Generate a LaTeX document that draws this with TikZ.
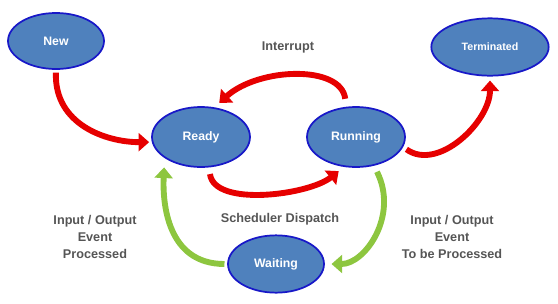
\documentclass[tikz,border=0pt]{standalone}
\usepackage{fontspec}
\setmainfont{Liberation Sans}
\usetikzlibrary{shapes.geometric,arrows.meta}

\definecolor{statefill}{HTML}{4F81BD}
\definecolor{stateline}{HTML}{1818C8}
\definecolor{redarrow}{HTML}{E60000}
\definecolor{greenarrow}{HTML}{8DC63F}
\definecolor{labelgray}{HTML}{555555}

\tikzset{
  state/.style={ellipse,fill=statefill,draw=stateline,line width=1.3pt,inner sep=0pt,
    text=white,font=\bfseries\fontsize{9.2}{11}\selectfont},
  fat/.style={line width=4.4pt,-{Triangle[length=8pt,width=13.5pt]}},
  label/.style={text=labelgray,align=center,font=\bfseries\fontsize{9.5}{12.7}\selectfont}
}

\begin{document}
\begin{tikzpicture}[x=0.75pt,y=-0.75pt]
\useasboundingbox (0,0) rectangle (558,304);

\node[state,minimum width=72pt,minimum height=42pt] (new) at (56,41) {New};
\node[state,minimum width=73.5pt,minimum height=45pt] (ready) at (201,137) {Ready};
\node[state,minimum width=73.5pt,minimum height=45pt] (running) at (356,137) {Running};
\node[state,minimum width=88pt,minimum height=43pt,font=\bfseries\fontsize{8}{10}\selectfont] (terminated) at (490,47) {Terminated};
\node[state,minimum width=72pt,minimum height=43pt] (waiting) at (276,264) {Waiting};

\draw[fat,redarrow,shorten <=2pt,shorten >=2pt] (new.south) .. controls +(-2,55) and +(-45,0) .. (ready.186);
\draw[fat,redarrow,shorten <=6pt,shorten >=5pt] (running.108) .. controls +(-5,-42) and +(45,-40) .. (ready.66);
\draw[fat,redarrow,shorten <=3pt,shorten >=3pt] (running.-12) .. controls +(35,25) and +(0,45) .. (terminated.south);
\draw[fat,redarrow,shorten <=5pt,shorten >=5pt] (ready.-75) .. controls +(5,40) and +(-35,28) .. (running.-112);
\draw[fat,greenarrow,shorten <=5pt,shorten >=5pt] (running.-58) .. controls +(25,50) and +(40,0) .. (waiting.east);
\draw[fat,greenarrow,shorten <=2pt,shorten >=7pt] (waiting.west) .. controls +(-60,0) and +(-2,45) .. (ready.-150);

\node[label] (interrupt) at (288,47) {Interrupt};
\node[label] (dispatch) at (280,219) {Scheduler Dispatch};
\node[label] (ioleft) at (95,237) {Input / Output\\Event\\Processed};
\node[label] (ioright) at (452,237) {Input / Output\\Event\\To be Processed};

\end{tikzpicture}
\end{document}
